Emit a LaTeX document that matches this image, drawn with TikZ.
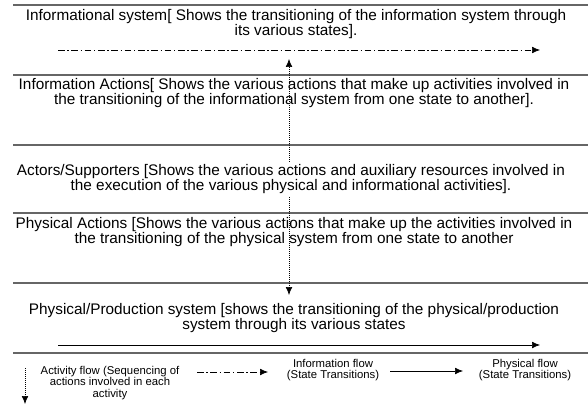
\documentclass[tikz,border=0pt]{standalone}
\usepackage{fontspec}
\setmainfont{Liberation Sans}
\usetikzlibrary{arrows.meta}

\begin{document}
\begin{tikzpicture}[x=0.75pt,y=-0.75pt,
    band/.style={draw=black!60,line width=1.2pt},
    lane/.style={align=center,inner sep=2pt,font=\fontsize{11.5}{11.6}\selectfont},
    key/.style={align=center,inner sep=1pt,font=\fontsize{8.5}{8.6}\selectfont},
    actflow/.style={-{Latex[length=6pt,width=5pt]},densely dotted,line width=0.5pt},
    infoflow/.style={-{Latex[length=6pt,width=5pt]},line width=0.5pt,dash pattern=on 5pt off 2pt on 1pt off 2pt},
    physflow/.style={-{Latex[length=6pt,width=5pt]},line width=0.5pt}]
    \useasboundingbox (0,0) rectangle (588,406);
    \foreach \y in {5,75,145,213,283,353}
        \draw[band] (13,\y) -- (588,\y);
    \node[lane] (infosys) at (296,24) {Informational system[ Shows the transitioning of the information system through\\its various states].};
    \node[lane] (infoact) at (294,93) {Information Actions[ Shows the various actions that make up activities involved in\\the transitioning of the informational system from one state to another].};
    \node[lane] (actors) at (291,179) {Actors/Supporters [Shows the various actions and auxiliary resources involved in\\the execution of the various physical and informational activities].};
    \node[lane] (physact) at (294,232) {Physical Actions [Shows the various actions that make up the activities involved in\\the transitioning of the physical system from one state to another};
    \node[lane] (physsys) at (294,318) {Physical/Production system [shows the transitioning of the physical/production\\system through its various states};
    \coordinate (infostart) at (58,50);
    \coordinate (infoend) at (540,50);
    \coordinate (infoin) at (289,59);
    \coordinate (physin) at (289,295);
    \coordinate (physstart) at (58,345);
    \coordinate (physend) at (540,345);
    \draw[infoflow] (infostart) -- (infoend);
    \draw[physflow] (physstart) -- (physend);
    \draw[actflow] (actors.north -| infoin) -- (infoin);
    \draw[actflow] (actors.south -| physin) -- (physin);
    \node[key] (keyact) at (110,383) {Activity flow (Sequencing of\\actions involved in each\\activity};
    \node[key] (keyinfo) at (333,370) {Information flow\\(State Transitions)};
    \node[key] (keyphys) at (525,370) {Physical flow\\(State Transitions)};
    \coordinate (keyacttop) at (25,368);
    \coordinate (keyactbot) at (25,404);
    \coordinate (keyinfostart) at (197,372);
    \coordinate (keyinfoend) at (268,372);
    \coordinate (keyphysstart) at (390,371);
    \coordinate (keyphysend) at (463,371);
    \draw[actflow] (keyacttop) -- (keyactbot);
    \draw[infoflow] (keyinfostart) -- (keyinfoend);
    \draw[physflow] (keyphysstart) -- (keyphysend);
\end{tikzpicture}
\end{document}
